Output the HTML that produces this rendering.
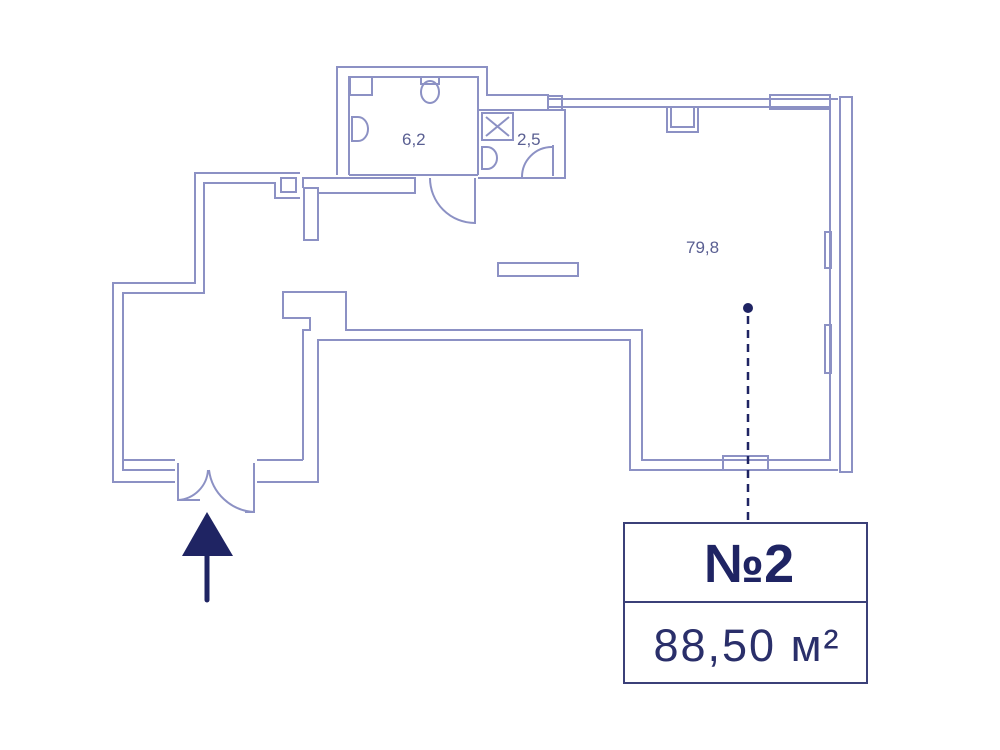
<!DOCTYPE html>
<html><head><meta charset="utf-8"><style>
html,body{margin:0;padding:0;background:#fff;width:1000px;height:750px;overflow:hidden}
svg{display:block}
</style></head><body>
<svg width="1000" height="750" viewBox="0 0 1000 750" xmlns="http://www.w3.org/2000/svg">
<g fill="none" stroke="#8c91c4" stroke-width="2">
<polyline points="175,482 113,482 113,283 195,283 195,173 300,173"/>
<polyline points="175,470 123,470 123,293 204,293 204,183 275,183 275,198 300,198"/>
<line x1="123" y1="460" x2="175" y2="460"/>
<line x1="257" y1="460" x2="303" y2="460"/>
<polyline points="257,482 318,482 318,340 630,340 630,470 838,470"/>
<polyline points="303,460 303,330 310,330 310,318 283,318 283,292 346,292 346,330 642,330 642,460 830,460 830,107 548,107"/>
<rect x="281" y="178" width="15" height="14"/>
<rect x="304" y="188" width="14" height="52"/>
<polyline points="303,188 303,178 415,178 415,193 318,193"/>
<rect x="498" y="263" width="80" height="13"/>
<polyline points="337,175 337,67 487,67 487,95 548,95 548,99 838,99"/>
<polyline points="349,175 349,77 478,77 478,175"/>
<line x1="349" y1="175" x2="478" y2="175"/>
<rect x="350" y="77" width="22" height="18"/>
<ellipse cx="430" cy="92" rx="9" ry="11"/>
<rect x="421" y="77" width="18" height="7"/>
<path d="M352,117 h6 a10,12 0 0 1 0,24 h-6 z"/>
<polyline points="478,110 565,110 565,178 478,178"/>
<rect x="482" y="113" width="31" height="27"/>
<line x1="486" y1="117" x2="509" y2="136"/><line x1="509" y1="117" x2="486" y2="136"/>
<path d="M482,147 h5 a10,11 0 0 1 0,22 h-5 z"/>
<path d="M522,177 a30,30 0 0 1 30,-30"/>
<line x1="553" y1="145" x2="553" y2="176"/>
<rect x="548" y="96" width="14" height="14"/>
<path d="M430,178 a45,45 0 0 0 45,45"/>
<line x1="475" y1="178" x2="475" y2="224"/>
<polyline points="667,107 667,132 698,132 698,107"/>
<rect x="671" y="107" width="23" height="20"/>
<rect x="770" y="95" width="60" height="14"/>
<rect x="840" y="97" width="12" height="375"/>
<rect x="825" y="232" width="6" height="36"/>
<rect x="825" y="325" width="6" height="48"/>
<rect x="723" y="456" width="45" height="14"/>
<polyline points="178,463 178,500 200,500"/>
<path d="M178,500 a32,32 0 0 0 30,-30"/>
<polyline points="254,463 254,512 245,512"/>
<path d="M254,512 a48,48 0 0 1 -45,-42"/>
</g>
<g fill="#5a5f92" font-family="Liberation Sans, sans-serif" font-size="17">
<text x="402" y="145">6,2</text>
<text x="517" y="145">2,5</text>
<text x="686" y="253">79,8</text>
</g>
<circle cx="748" cy="308" r="5" fill="#1f2463"/>
<line x1="748" y1="316" x2="748" y2="522" stroke="#1f2463" stroke-width="2.5" stroke-dasharray="8,6"/>
<polygon points="207,512 182,556 233,556" fill="#1f2463"/>
<line x1="207" y1="555" x2="207" y2="600" stroke="#1f2463" stroke-width="5" stroke-linecap="round"/>
<rect x="624" y="523" width="243" height="160" fill="none" stroke="#3b4078" stroke-width="2"/>
<line x1="624" y1="602" x2="867" y2="602" stroke="#3b4078" stroke-width="2"/>
<text x="749" y="582" text-anchor="middle" font-family="Liberation Sans, sans-serif" font-weight="bold" font-size="54" fill="#1f2463">№2</text>
<text x="747" y="661" text-anchor="middle" font-family="Liberation Sans, sans-serif" font-size="45" letter-spacing="2" fill="#2a2f6a">88,50 м²</text>
</svg>
</body></html>
